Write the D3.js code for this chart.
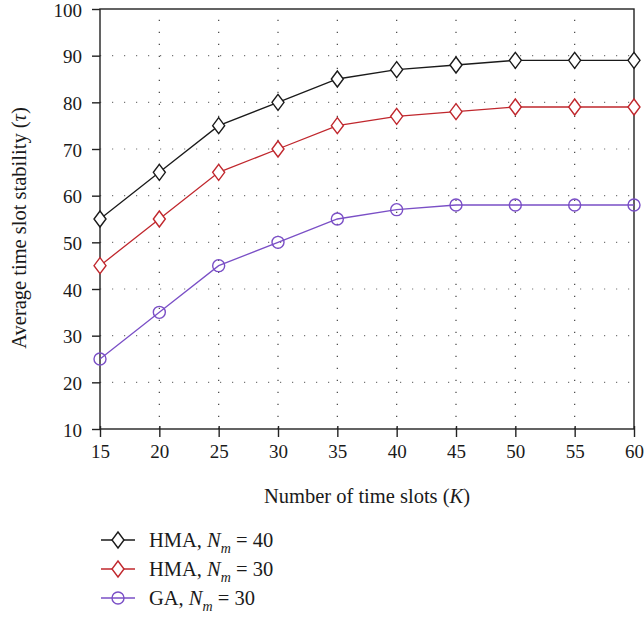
<!DOCTYPE html>
<html>
<head>
<meta charset="utf-8">
<script src="https://cdn.jsdelivr.net/npm/d3@7"></script>
<style>
  body { margin: 0; background: #fff; }
  text { font-family: "Liberation Serif", "DejaVu Serif", serif; fill: #1a1a1a; }
</style>
</head>
<body>
<svg id="chart" width="644" height="618"></svg>
<script>
var slots = [15, 20, 25, 30, 35, 40, 45, 50, 55, 60];
var hma40 = [55, 65, 75, 80, 85, 87, 88, 89, 89, 89];
var hma30 = [45, 55, 65, 70, 75, 77, 78, 79, 79, 79];
var ga30 = [25, 35, 45, 50, 55, 57, 58, 58, 58, 58];
var yTicks = [10, 20, 30, 40, 50, 60, 70, 80, 90, 100];

var series = [
  { name: "HMA, ", sub: "40", values: hma40, colour: "#1a1a1a", marker: "diamond" },
  { name: "HMA, ", sub: "30", values: hma30, colour: "#c0272d", marker: "diamond" },
  { name: "GA, ", sub: "30", values: ga30, colour: "#7a4fc6", marker: "circle" }
];

var svg = d3.select("#chart");
var m = { left: 100, top: 9, right: 634, bottom: 429 };

var x = d3.scaleLinear().domain([15, 60]).range([m.left, m.right]);
var y = d3.scaleLinear().domain([10, 100]).range([m.bottom, m.top]);

// dotted grid
var grid = svg.append("g");
grid.selectAll("line.h").data(yTicks.slice(1, -1)).enter()
  .append("line")
  .attr("x1", m.left).attr("x2", m.right)
  .attr("y1", function (d) { return y(d); }).attr("y2", function (d) { return y(d); })
  .attr("stroke", "#777").attr("stroke-width", 1.2)
  .attr("stroke-dasharray", "1.2,10.8");
grid.selectAll("line.v").data(slots.slice(1, -1)).enter()
  .append("line")
  .attr("y1", m.bottom).attr("y2", m.top)
  .attr("x1", function (d) { return x(d); }).attr("x2", function (d) { return x(d); })
  .attr("stroke", "#444").attr("stroke-width", 1.2)
  .attr("stroke-dasharray", "1.2,10.8");

// frame
svg.append("rect")
  .attr("x", m.left).attr("y", m.top)
  .attr("width", m.right - m.left).attr("height", m.bottom - m.top)
  .attr("fill", "none").attr("stroke", "#222").attr("stroke-width", 1.4);

var xAxis = svg.append("g")
  .attr("transform", "translate(0," + m.bottom + ")")
  .call(d3.axisBottom(x).tickValues(slots).tickSize(8).tickPadding(8));
var yAxis = svg.append("g")
  .attr("transform", "translate(" + m.left + ",0)")
  .call(d3.axisLeft(y).tickValues(yTicks).tickSize(8).tickPadding(10));

[xAxis, yAxis].forEach(function (a) {
  a.select(".domain").remove();
  a.selectAll(".tick line").attr("stroke", "#222").attr("stroke-width", 1.4);
  a.selectAll(".tick text").style("font-size", "19px")
    .style("font-family", "Liberation Serif, serif").attr("fill", "#1a1a1a");
});
xAxis.selectAll(".tick line").attr("y1", -3);
yAxis.selectAll(".tick text").attr("dy", "0.38em");

// axis titles
var xt = svg.append("text")
  .attr("x", 367).attr("y", 503)
  .attr("text-anchor", "middle").style("font-size", "20.5px");
xt.append("tspan").text("Number of time slots (");
xt.append("tspan").style("font-style", "italic").text("K");
xt.append("tspan").text(")");

var yt = svg.append("text")
  .attr("transform", "translate(26,228) rotate(-90)")
  .attr("text-anchor", "middle").style("font-size", "20.5px");
yt.append("tspan").text("Average time slot stability (");
yt.append("tspan").style("font-style", "italic").text("τ");
yt.append("tspan").text(")");

function drawMarker(g, type, colour) {
  if (type === "diamond") {
    g.append("path").attr("d", "M0,-8L6,0L0,8L-6,0Z")
      .attr("fill", "#fff").attr("stroke", colour).attr("stroke-width", 1.4);
  } else {
    g.append("circle").attr("r", 6)
      .attr("fill", "none").attr("stroke", colour).attr("stroke-width", 1.4);
  }
}

var line = d3.line()
  .x(function (d, i) { return x(slots[i]); })
  .y(function (d) { return y(d); });

series.forEach(function (s) {
  svg.append("path").datum(s.values)
    .attr("d", line)
    .attr("fill", "none").attr("stroke", s.colour).attr("stroke-width", 1.3);
  s.values.forEach(function (v, i) {
    var g = svg.append("g").attr("transform", "translate(" + x(slots[i]) + "," + y(v) + ")");
    drawMarker(g, s.marker, s.colour);
  });
});

// legend
series.forEach(function (s, i) {
  var ly = 540 + i * 29;
  var g = svg.append("g").attr("transform", "translate(0," + ly + ")");
  g.append("line").attr("x1", 101).attr("x2", 135).attr("y1", 0).attr("y2", 0)
    .attr("stroke", s.colour).attr("stroke-width", 1.3);
  var mk = g.append("g").attr("transform", "translate(118,0)");
  drawMarker(mk, s.marker, s.colour);
  var t = g.append("text").attr("x", 149).attr("y", 7).style("font-size", "20.5px");
  t.append("tspan").text(s.name);
  t.append("tspan").style("font-style", "italic").text("N");
  t.append("tspan").style("font-style", "italic").style("font-size", "14px")
    .attr("dy", 6).text("m");
  t.append("tspan").attr("dy", -6).text(" = " + s.sub);
});
</script>
</body>
</html>
